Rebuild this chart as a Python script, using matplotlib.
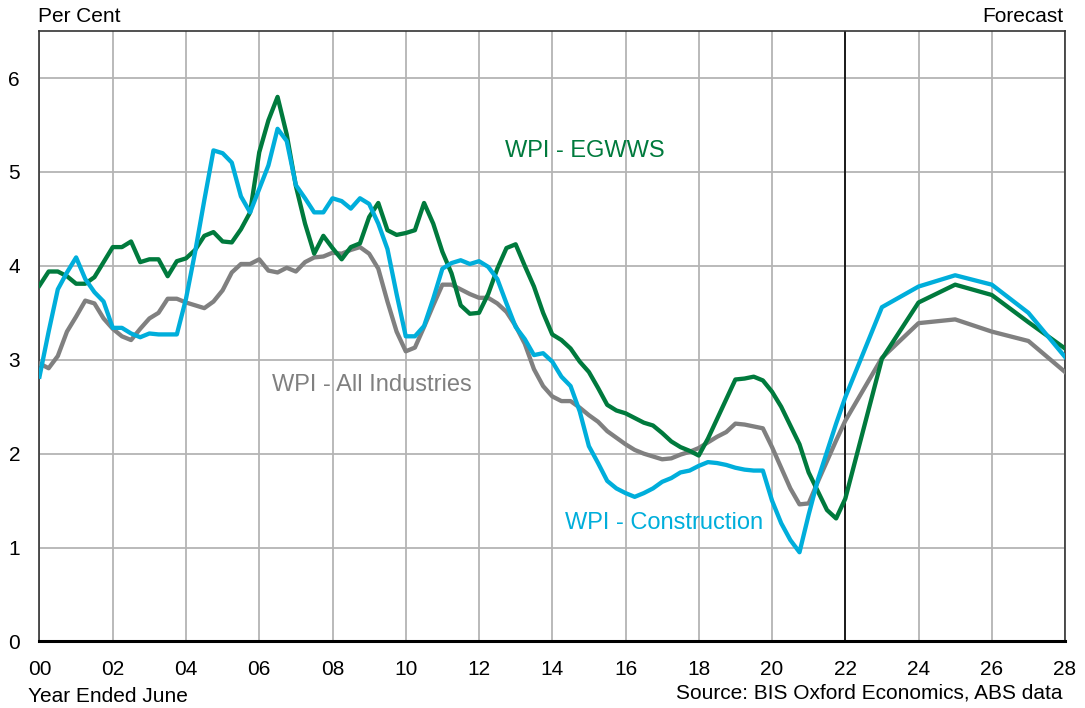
import numpy as np
import matplotlib.pyplot as plt

plt.rcParams['font.family'] = ['Liberation Sans', 'DejaVu Sans']

# quarterly history (Year Ended June, 2000 .. 2022) then annual forecast (2023 .. 2028)
hist_years = np.arange(0, 22.01, 0.25)
fc_years = [23, 24, 25, 26, 27, 28]

egwws = [3.79, 3.94, 3.94, 3.89, 3.81, 3.81, 3.88, 4.04, 4.20, 4.20, 4.26, 4.04,
         4.07, 4.07, 3.89, 4.05, 4.08, 4.17, 4.32, 4.36, 4.26, 4.25, 4.39, 4.57,
         5.21, 5.55, 5.80, 5.40, 4.85, 4.45, 4.13, 4.32, 4.19, 4.07, 4.20, 4.24,
         4.52, 4.67, 4.38, 4.33, 4.35, 4.38, 4.67, 4.45, 4.15, 3.92, 3.58, 3.49,
         3.50, 3.70, 3.97, 4.19, 4.23, 4.00, 3.78, 3.50, 3.27, 3.21, 3.12, 2.98,
         2.87, 2.70, 2.52, 2.46, 2.43, 2.38, 2.33, 2.30, 2.22, 2.13, 2.07, 2.03,
         1.98, 2.16, 2.37, 2.58, 2.79, 2.80, 2.82, 2.78, 2.66, 2.50, 2.30, 2.10,
         1.80, 1.60, 1.40, 1.31, 1.52]
egwws_fc = [3.01, 3.61, 3.80, 3.69, 3.40, 3.12]

constr = [2.82, 3.30, 3.75, 3.93, 4.09, 3.86, 3.72, 3.62, 3.34, 3.34, 3.28, 3.24,
          3.28, 3.27, 3.27, 3.27, 3.65, 4.15, 4.70, 5.23, 5.20, 5.10, 4.74, 4.57,
          4.82, 5.07, 5.46, 5.33, 4.86, 4.72, 4.57, 4.57, 4.72, 4.69, 4.61, 4.72,
          4.66, 4.45, 4.18, 3.70, 3.25, 3.25, 3.36, 3.65, 3.97, 4.03, 4.06, 4.02,
          4.05, 3.99, 3.86, 3.60, 3.35, 3.22, 3.05, 3.07, 2.98, 2.82, 2.72, 2.45,
          2.08, 1.90, 1.71, 1.63, 1.58, 1.54, 1.58, 1.63, 1.70, 1.74, 1.80, 1.82,
          1.87, 1.91, 1.90, 1.88, 1.85, 1.83, 1.82, 1.82, 1.50, 1.26, 1.08, 0.95,
          1.35, 1.72, 2.02, 2.32, 2.60]
constr_fc = [3.56, 3.78, 3.90, 3.80, 3.50, 3.03]

allind = [2.96, 2.91, 3.04, 3.30, 3.46, 3.63, 3.60, 3.44, 3.33, 3.25, 3.21, 3.33,
          3.44, 3.50, 3.65, 3.65, 3.61, 3.58, 3.55, 3.62, 3.74, 3.93, 4.02, 4.02,
          4.07, 3.95, 3.93, 3.98, 3.94, 4.04, 4.09, 4.10, 4.14, 4.13, 4.17, 4.20,
          4.13, 3.97, 3.62, 3.30, 3.09, 3.13, 3.35, 3.58, 3.80, 3.80, 3.75, 3.70,
          3.66, 3.66, 3.60, 3.51, 3.36, 3.17, 2.90, 2.72, 2.61, 2.56, 2.56, 2.49,
          2.41, 2.34, 2.24, 2.17, 2.10, 2.04, 2.00, 1.97, 1.94, 1.95, 1.99, 2.02,
          2.06, 2.12, 2.18, 2.23, 2.32, 2.31, 2.29, 2.27, 2.07, 1.85, 1.63, 1.46,
          1.47, 1.70, 1.92, 2.14, 2.35]
allind_fc = [3.02, 3.39, 3.43, 3.30, 3.20, 2.87]

xticks = np.arange(0, 29, 2)
xlabels = ['%02d' % t for t in xticks]

green = '#007A3D'
cyan = '#00AEDB'
grey = '#808080'

fig = plt.figure(figsize=(10.85, 7.08), dpi=100)
ax = fig.add_axes([0.0364, 0.094, 0.9452, 0.862])

x = list(hist_years) + fc_years
ax.plot(x, allind + allind_fc, color=grey, lw=3.1, zorder=3)
ax.plot(x, egwws + egwws_fc, color=green, lw=3.1, zorder=4)
ax.plot(x, constr + constr_fc, color=cyan, lw=3.1, zorder=5)

ax.axvline(22, color='black', lw=1.2, zorder=2)

ax.set_xlim(0, 28)
ax.set_ylim(0, 6.5)
ax.set_xticks(xticks)
ax.set_xticklabels(xlabels)
ax.set_yticks(range(0, 7))
ax.grid(True, color='#b4b4b4', lw=1.3, zorder=0)
ax.set_axisbelow(True)
ax.tick_params(length=0, labelsize=15)
ax.tick_params(axis='y', pad=14)
ax.tick_params(axis='x', pad=13)
for s in ['left', 'top', 'right']:
    ax.spines[s].set_color('#333333')
    ax.spines[s].set_linewidth(1.2)
ax.spines['bottom'].set_color('black')
ax.spines['bottom'].set_linewidth(2.2)

ax.text(14.9, 5.22, 'WPI - EGWWS', color=green, fontsize=17, ha='center', va='center')
ax.text(9.07, 2.73, 'WPI - All Industries', color=grey, fontsize=17, ha='center', va='center')
ax.text(17.05, 1.26, 'WPI - Construction', color=cyan, fontsize=17, ha='center', va='center')

fig.text(38 / 1085, 1 - 16 / 708, 'Per Cent', fontsize=15, ha='left', va='center')
fig.text(1063 / 1085, 1 - 17 / 708, 'Forecast', fontsize=15, ha='right', va='center')
fig.text(28 / 1085, 1 - 697 / 708, 'Year Ended June', fontsize=15, ha='left', va='center')
fig.text(1063 / 1085, 1 - 693 / 708, 'Source: BIS Oxford Economics, ABS data', fontsize=15,
         ha='right', va='center')

fig.savefig('out.png', dpi=100)
